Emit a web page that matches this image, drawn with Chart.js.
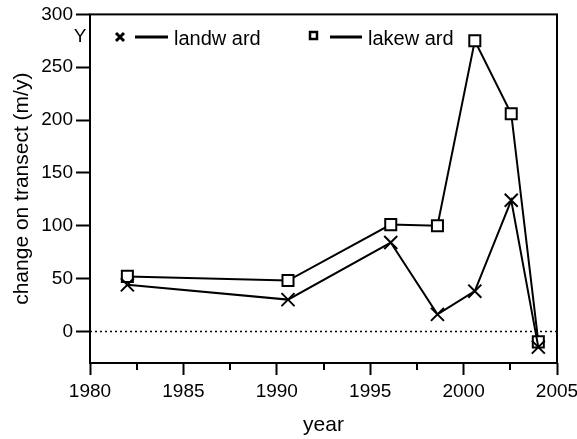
<!DOCTYPE html>
<html lang="en">
<head>
<meta charset="UTF-8" />
<title>Change on transect</title>
<style>
  body { margin: 0; padding: 0; background: #fff; }
  #wrap { width: 577px; height: 439px; }
</style>
</head>
<body>
<div id="wrap">
  <canvas id="chart" width="577" height="439"></canvas>
</div>

<script src="https://cdn.jsdelivr.net/npm/chart.js"></script>
<script>
(() => {
  // data
  const years = [1982.0, 1990.6, 1996.1, 1998.6, 2000.6, 2002.55, 2004.0];
  const landward = [44, 30, 84, 16, 38, 124, -15];
  const lakeward = [52, 48, 101, 100, 275, 206, -10];

  const yTickValues = [0, 50, 100, 150, 200, 250, 300];
  const xMinorTicks = [1982.5, 1987.5, 1992.5, 1997.5, 2002.5];

  const FONT = "'Liberation Sans', Arial, sans-serif";

  const toPoints = (xs, ys) => xs.map((x, i) => ({ x: x, y: ys[i] }));

  // frame, minor ticks, zero line, legend and the stray "Y"
  const decor = {
    id: 'decor',
    beforeDatasetsDraw(chart) {
      const { ctx, chartArea: a, scales } = chart;
      const y0 = Math.round(scales.y.getPixelForValue(0)) + 0.5;
      ctx.save();
      ctx.strokeStyle = '#000';
      ctx.lineWidth = 1.5;
      ctx.setLineDash([2, 3]);
      ctx.beginPath();
      ctx.moveTo(a.left, y0);
      ctx.lineTo(a.right, y0);
      ctx.stroke();
      ctx.restore();
    },
    afterDraw(chart) {
      const { ctx, chartArea: a, scales } = chart;
      ctx.save();
      ctx.strokeStyle = '#000';
      ctx.lineWidth = 2;
      ctx.strokeRect(a.left, a.top, a.right - a.left, a.bottom - a.top);

      // minor x ticks
      ctx.beginPath();
      xMinorTicks.forEach(v => {
        const px = Math.round(scales.x.getPixelForValue(v));
        ctx.moveTo(px, a.bottom);
        ctx.lineTo(px, a.bottom + 7);
      });
      ctx.stroke();

      // legend
      const ly = 37;
      ctx.fillStyle = '#000';
      ctx.font = '19px ' + FONT;
      ctx.textAlign = 'center';
      ctx.textBaseline = 'middle';
      ctx.fillText('Y', 80, ly);

      ctx.lineWidth = 3;
      ctx.beginPath();
      ctx.moveTo(116, ly - 4); ctx.lineTo(124, ly + 4);
      ctx.moveTo(124, ly - 4); ctx.lineTo(116, ly + 4);
      ctx.stroke();
      ctx.beginPath();
      ctx.moveTo(135, ly); ctx.lineTo(168, ly);
      ctx.stroke();

      ctx.lineWidth = 2.5;
      ctx.strokeRect(310, ly - 5, 7, 7);
      ctx.lineWidth = 3;
      ctx.beginPath();
      ctx.moveTo(330, ly); ctx.lineTo(362, ly);
      ctx.stroke();

      ctx.font = '20px ' + FONT;
      ctx.textAlign = 'left';
      ctx.fillText(chart.data.datasets[0].label, 174, ly + 2);
      ctx.fillText(chart.data.datasets[1].label, 368, ly + 2);
      ctx.restore();
    }
  };

  new Chart(document.getElementById('chart').getContext('2d'), {
    type: 'line',
    data: {
      datasets: [
        {
          label: 'landw ard',
          data: toPoints(years, landward),
          borderColor: '#000',
          borderWidth: 2,
          pointStyle: 'crossRot',
          pointRadius: 9.2,
          pointBorderWidth: 2,
          pointBorderColor: '#000',
          pointBackgroundColor: '#000',
          tension: 0
        },
        {
          label: 'lakew ard',
          data: toPoints(years, lakeward),
          borderColor: '#000',
          borderWidth: 2,
          pointStyle: 'rect',
          pointRadius: 7.8,
          pointBorderWidth: 2,
          pointBorderColor: '#000',
          pointBackgroundColor: '#fff',
          tension: 0
        }
      ]
    },
    options: {
      responsive: false,
      animation: false,
      devicePixelRatio: 1,
      layout: { padding: { left: 0, right: 20, top: 14, bottom: 0 } },
      plugins: {
        legend: { display: false },
        tooltip: { enabled: false }
      },
      scales: {
        x: {
          type: 'linear',
          min: 1980,
          max: 2005,
          ticks: {
            stepSize: 5,
            color: '#000',
            font: { family: FONT, size: 19 },
            padding: 5,
            maxRotation: 0,
            callback: v => String(v)
          },
          grid: {
            drawOnChartArea: false,
            drawTicks: true,
            tickLength: 12,
            tickWidth: 2,
            tickColor: '#000'
          },
          border: { display: false },
          title: {
            display: true,
            text: 'year',
            color: '#000',
            font: { family: FONT, size: 21 },
            padding: { top: 0, bottom: 1 }
          },
          afterFit(scale) {
            scale.height = 76;
            scale.paddingLeft = 0;
            scale.paddingRight = 0;
          }
        },
        y: {
          min: -30,
          max: 300,
          afterBuildTicks(scale) {
            scale.ticks = yTickValues.map(v => ({ value: v }));
          },
          ticks: {
            color: '#000',
            font: { family: FONT, size: 19 },
            padding: 3
          },
          grid: {
            drawOnChartArea: false,
            drawTicks: true,
            tickLength: 14,
            tickWidth: 2,
            tickColor: '#000'
          },
          border: { display: false },
          title: {
            display: true,
            text: 'change on transect (m/y)',
            color: '#000',
            font: { family: FONT, size: 21 },
            padding: { top: 10, bottom: 0 }
          },
          afterFit(scale) {
            scale.width = 90;
          }
        }
      }
    },
    plugins: [decor]
  });
})();
</script>
</body>
</html>
